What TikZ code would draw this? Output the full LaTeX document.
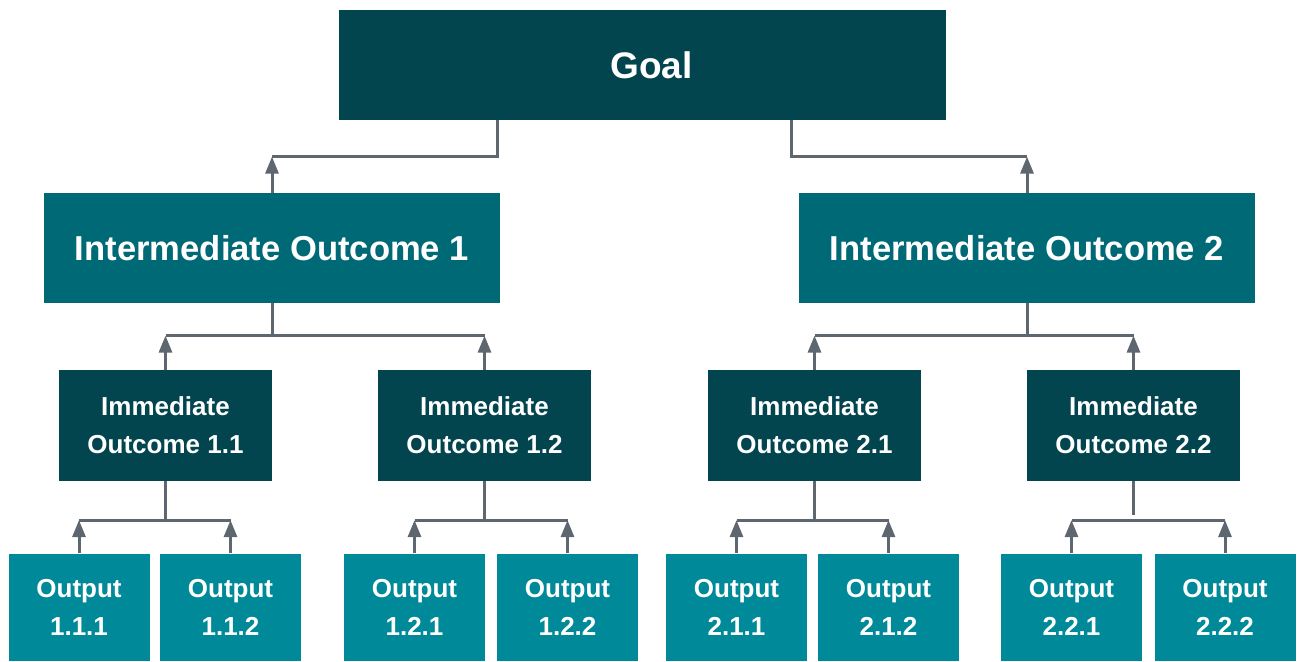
\documentclass[tikz,border=0pt]{standalone}
\usepackage{fontspec}
\setmainfont{Liberation Sans}
\usetikzlibrary{arrows.meta,calc}
\definecolor{cdark}{HTML}{03454F}
\definecolor{cmid}{HTML}{006976}
\definecolor{clight}{HTML}{008A99}
\definecolor{cline}{HTML}{5E6670}
\tikzset{
  box/.style={rectangle, inner sep=0pt, text=white, align=center, font=\bfseries},
  big/.style={box, font=\bfseries\fontsize{17.3}{21}\selectfont},
  small/.style={box, font=\bfseries\fontsize{13}{19}\selectfont},
  goalbox/.style={box, font=\bfseries\fontsize{18.5}{22}\selectfont, fill=cdark, minimum width=303.5pt, minimum height=55pt},
  iobox/.style={big, fill=cmid, minimum width=228pt, minimum height=55pt},
  immbox/.style={small, fill=cdark, minimum width=106.5pt, minimum height=55.5pt},
  outbox/.style={small, fill=clight, minimum width=70.5pt, minimum height=53.5pt},
  conn/.style={draw=cline, line width=1.5pt},
  arr/.style={conn, -{Triangle[length=8.5pt,width=6.5pt]}},
}
\begin{document}
\begin{tikzpicture}[x=0.5pt,y=-0.5pt]
\useasboundingbox (0,0) rectangle (1297,661);
\node[goalbox] (goal) at (642.5,65) {\hspace*{9pt}Goal};
\node[iobox] (io1) at (272,248) {Intermediate Outcome 1};
\node[iobox] (io2) at (1027,248) {Intermediate Outcome 2};
\node[immbox] (imm11) at (165.5,425.5) {Immediate\\Outcome 1.1};
\node[immbox] (imm12) at (484.5,425.5) {Immediate\\Outcome 1.2};
\node[immbox] (imm21) at (814.5,425.5) {Immediate\\Outcome 2.1};
\node[immbox] (imm22) at (1133.5,425.5) {Immediate\\Outcome 2.2};
\node[outbox] (o111) at (79,607) {Output\\1.1.1};
\node[outbox] (o112) at (230.5,607) {Output\\1.1.2};
\node[outbox] (o121) at (414.5,607) {Output\\1.2.1};
\node[outbox] (o122) at (567.5,607) {Output\\1.2.2};
\node[outbox] (o211) at (736.5,607) {Output\\2.1.1};
\node[outbox] (o212) at (888.5,607) {Output\\2.1.2};
\node[outbox] (o221) at (1071.5,607) {Output\\2.2.1};
\node[outbox] (o222) at (1225,607) {Output\\2.2.2};
% goal to intermediate
\draw[conn] ($(goal.south)+(-145.5,0)$) |- ($(io1.north)+(0,-36)$);
\draw[arr] (io1.north) -- +(0,-36);
\draw[conn] ($(goal.south)+(148.5,0)$) |- ($(io2.north)+(0,-36)$);
\draw[arr] (io2.north) -- +(0,-36);
% intermediate to immediate
\draw[conn] (io1.south) -- ++(0,33);
\draw[conn] ($(imm11.north)+(0,-34)$) -- ($(imm12.north)+(0,-34)$);
\draw[arr] (imm11.north) -- +(0,-34);
\draw[arr] (imm12.north) -- +(0,-34);
\draw[conn] (io2.south) -- ++(0,33);
\draw[conn] ($(imm21.north)+(0,-34)$) -- ($(imm22.north)+(0,-34)$);
\draw[arr] (imm21.north) -- +(0,-34);
\draw[arr] (imm22.north) -- +(0,-34);
% immediate to outputs
\draw[conn] (imm11.south) -- ($(imm11.south |- o111.north)+(0,-33)$);
\draw[conn] ($(o111.north)+(0,-33)$) -- ($(o112.north)+(0,-33)$);
\draw[arr] (o111.north) -- +(0,-33);
\draw[arr] (o112.north) -- +(0,-33);
\draw[conn] (imm12.south) -- ($(imm12.south |- o121.north)+(0,-33)$);
\draw[conn] ($(o121.north)+(0,-33)$) -- ($(o122.north)+(0,-33)$);
\draw[arr] (o121.north) -- +(0,-33);
\draw[arr] (o122.north) -- +(0,-33);
\draw[conn] (imm21.south) -- ($(imm21.south |- o211.north)+(0,-33)$);
\draw[conn] ($(o211.north)+(0,-33)$) -- ($(o212.north)+(0,-33)$);
\draw[arr] (o211.north) -- +(0,-33);
\draw[arr] (o212.north) -- +(0,-33);
\draw[conn] (imm22.south) -- ($(imm22.south |- o221.north)+(0,-38)$);
\draw[conn] ($(o221.north)+(0,-33)$) -- ($(o222.north)+(0,-33)$);
\draw[arr] (o221.north) -- +(0,-33);
\draw[arr] (o222.north) -- +(0,-33);
\end{tikzpicture}
\end{document}
